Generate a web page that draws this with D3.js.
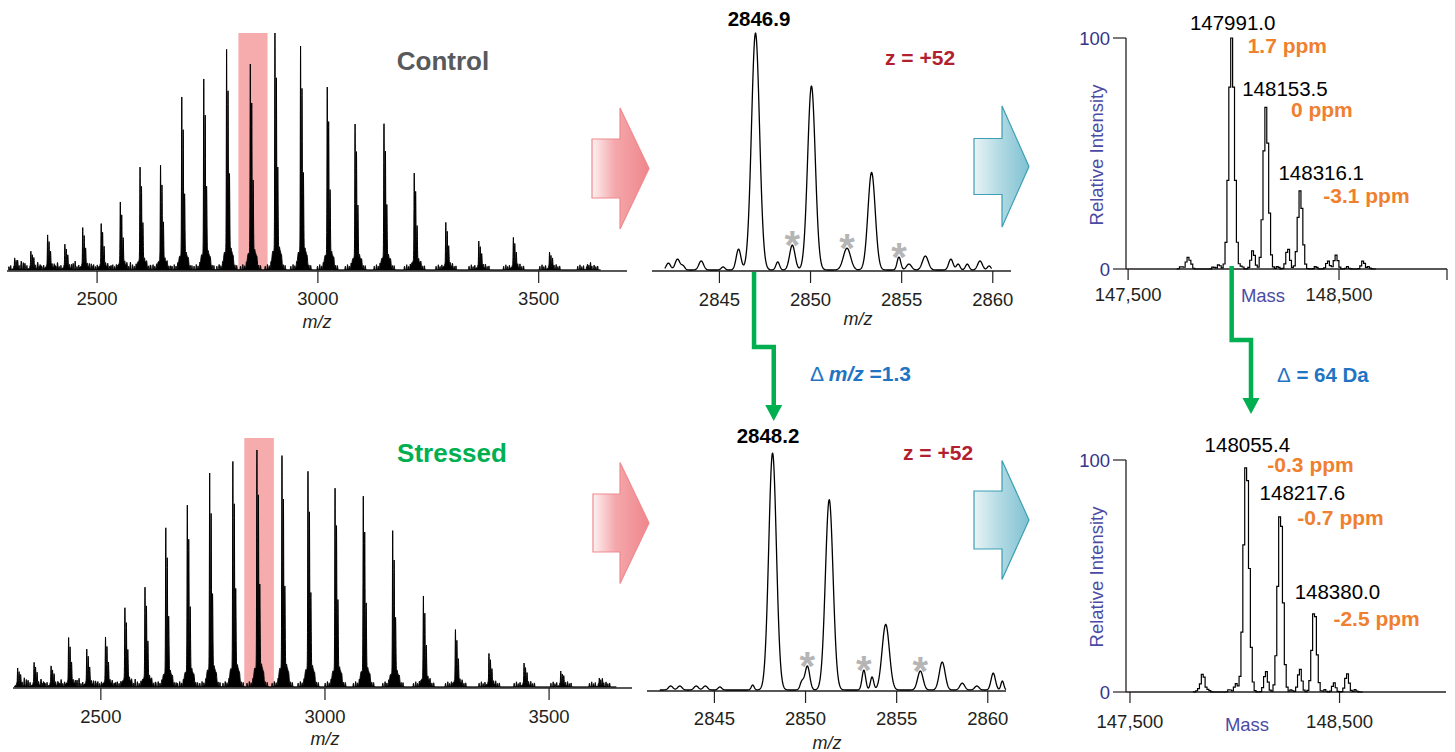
<!DOCTYPE html>
<html><head><meta charset="utf-8">
<script src="https://cdn.jsdelivr.net/npm/d3@7"></script>
<style>body{margin:0;background:#fff;} svg{display:block;font-family:"Liberation Sans",Arial,sans-serif;}</style>
</head><body><script>
// ================= DATA =================
// Full-scan charge-state envelopes (charge states 64 ... 41)
const chargeStates = [64,63,62,61,60,59,58,57,56,55,54,53,52,51,50,49,48,47,46,45,44,43,42,41];
const controlMz   = [2313.4,2350.1,2388.0,2427.1,2467.5,2509.3,2552.6,2597.3,2643.7,2691.8,2741.6,2793.3,2847.0,2902.8,2960.8,3021.2,3084.2,3149.7,3218.2,3289.7,3364.4,3442.7,3524.6,3610.5];
const controlInt  = [5.1,8.0,14.8,11.0,18.1,19.8,28.7,43.9,44.7,73.0,80.6,94.1,86.9,100,94.5,77.2,61.6,62.4,40.9,20.3,12.2,13.9,7.6,2.5];
const stressedMz  = [2314.4,2351.1,2389.0,2428.1,2468.6,2510.4,2553.7,2598.5,2644.9,2692.9,2742.8,2794.5,2848.2,2904.1,2962.1,3022.5,3085.5,3151.1,3219.6,3291.1,3365.9,3444.2,3526.1,3612.1];
const stressedInt = [8.0,10.5,8.9,21.1,16.0,21.1,33.8,42.6,67.9,77.6,90.3,96.2,100,98.7,92.0,84.8,81.4,66.7,38.4,24.5,14.3,10.1,6.8,3.8];
const highlightMz = [2820, 2886];
const fullTicks = [2500, 3000, 3500];

// Zoom on charge state z = +52
const controlZoomMz    = [2842.2,2842.7,2843.0,2844.0,2845.2,2846.05,2846.98,2848.2,2849.0,2850.05,2852.0,2853.35,2854.85,2855.4,2856.3,2857.7,2858.1,2858.6,2859.3,2859.8];
const controlZoomInt   = [2.9,4.6,1.7,3.8,1.3,8.8,100,3.4,10.5,77.7,9.2,41.2,5.5,2.5,5.9,4.6,2.5,2.5,3.8,1.7];
const controlZoomSigma = [0.12,0.13,0.1,0.13,0.1,0.13,0.22,0.1,0.15,0.21,0.2,0.2,0.1,0.14,0.16,0.12,0.1,0.1,0.13,0.1];
const stressedZoomMz    = [2842.6,2843.1,2844.0,2844.5,2845.3,2847.1,2848.19,2849.8,2850.1,2851.3,2853.2,2853.65,2854.4,2856.3,2857.5,2858.6,2859.4,2860.3,2860.8];
const stressedZoomInt   = [1.7,1.7,1.7,1.7,1.3,2.1,100,3.4,10.1,80.3,8.4,5.5,27.7,8.0,11.8,2.9,1.7,7.1,3.8];
const stressedZoomSigma = [0.12,0.12,0.12,0.12,0.1,0.08,0.21,0.1,0.13,0.21,0.1,0.09,0.2,0.15,0.16,0.13,0.12,0.12,0.08];
const zoomTicks = [2845, 2850, 2855, 2860];
const controlStarMz  = [2849.0, 2852.0, 2854.85];
const stressedStarMz = [2850.1, 2853.2, 2856.3];
const controlApex = "2846.9", stressedApex = "2848.2", chargeLabel = "z = +52";
const deltaMz = "=1.3", deltaMass = " = 64 Da";

// Deconvoluted spectra
const controlMass   = [147752,147784,147800,147905,147931,147991.0,148040,148092,148153.5,148210,148258,148316.1,148390,148448,148486,148540,148614,148640];
const controlRel    = [1.2,5,1.5,1,2,100,1.2,8,70,1.2,9,34,1.2,3.5,6,1,3.5,1];
const controlSigma  = [6,9,6,6,7,13,6,9,12,6,9,11,6,8,9,6,8,6];
const controlLabelMass = [147991.0,148153.5,148316.1];
const controlLabelRel  = [100,70,34];
const controlPpm       = ["1.7 ppm","0 ppm","-3.1 ppm"];
const stressedMass  = [147825,147848,147875,147975,148006,148055.4,148149,148217.6,148270,148311,148380.0,148430,148474,148536,148575];
const stressedRel   = [1,8,1,1.2,3.5,100,9,79,1,10,36,1,4,8,1];
const stressedSigma = [6,9,6,6,8,13,9,12,6,9,11,6,8,9,6];
const stressedLabelMass = [148055.4,148217.6,148380.0];
const stressedLabelRel  = [100,79,36];
const stressedPpm       = ["-0.3 ppm","-0.7 ppm","-2.5 ppm"];
const massTicks = [147500, 148500];
const relTicks = [0, 100];

// ================= STYLE / LAYOUT =================
const C = {ink:"#231f20", pinkBand:"#f6abad", green:"#00b050", grey:"#58595b", red:"#b11f30",
           orange:"#ef8030", blue:"#1f74c3", navy:"#35358a", axisBlue:"#4b4ba5", star:"#b5b5b5"};
// peak shape template for the full-scan envelope (offset m/z, relative height, sigma)
const envShape = {off:[0,3.2,6.4,3.5,4,-5,12], rel:[1,0.74,0.34,0.11,0.045,0.06,0.06], sig:[0.6,0.65,0.7,3.2,8,2,2.5]};
const fuzzShape = {off:[-22,-17,-13,-9,-2,7,10,15,19,23], h:[1.6,2.2,1.4,1.8,1.2,2.4,1.5,2.0,1.4,1.7], sig:[0.7,0.6,0.8,0.6,0.6,0.7,0.6,0.8,0.6,0.7]};

const svg = d3.select("body").append("svg").attr("width",1455).attr("height",752);
const defs = svg.append("defs");
function grad(id, stops){
  const g = defs.append("linearGradient").attr("id",id).attr("x1","0%").attr("x2","100%").attr("y1","0%").attr("y2","0%");
  stops.forEach(s=>g.append("stop").attr("offset",s[0]).attr("stop-color",s[1]));
}
grad("pinkGrad",[[0,"#fdf1f2"],[0.4,"#f4a8ab"],[1,"#ef868c"]]);
grad("blueGrad",[[0,"#e9f3f6"],[0.45,"#b4dbe4"],[1,"#7fc1d1"]]);

function gauss(x,mu,s){const d=(x-mu)/s;return Math.exp(-0.5*d*d);}
function sample(centers,heights,sigmas,lo,hi,step){
  const pts=[];
  for(let m=lo;m<=hi+1e-9;m+=step){
    let v=0;
    for(let i=0;i<centers.length;i++){const d=Math.abs(m-centers[i]); if(d<6*sigmas[i]) v+=heights[i]*gauss(m,centers[i],sigmas[i]);}
    pts.push([m,v]);
  }
  return pts;
}
// normalise the envelope template so that its apex equals the listed intensity
const envNorm = d3.sum(envShape.off, (o,k)=>envShape.rel[k]*gauss(0,o,envShape.sig[k]));

// ---------- Full scan panels ----------
function fullPanel(cfg, mz, ints){
  const x = d3.scaleLinear().domain(cfg.dom).range(cfg.xr);
  const y = d3.scaleLinear().domain([0,100]).range(cfg.yr);
  const g = svg.append("g");
  g.append("rect").attr("x",x(highlightMz[0])).attr("width",x(highlightMz[1])-x(highlightMz[0]))
    .attr("y",cfg.bandTop).attr("height",cfg.yr[0]-cfg.bandTop).attr("fill",C.pinkBand);
  const c=[],h=[],s=[];
  mz.forEach((m,i)=>{
    envShape.off.forEach((o,k)=>{c.push(m+o);h.push(ints[i]*envShape.rel[k]/envNorm);s.push(envShape.sig[k]);});
    fuzzShape.off.forEach((o,k)=>{c.push(m+o);h.push(fuzzShape.h[k]);s.push(fuzzShape.sig[k]);});
  });
  const pts = sample(c,h,s,cfg.samp[0],cfg.samp[1],0.2);
  g.append("path").datum(pts)
    .attr("d",d3.area().x(d=>x(d[0])).y0(y(0)).y1(d=>y(d[1])))
    .attr("fill","#000").attr("stroke","#000").attr("stroke-width",1);
  const ax = g.append("g").attr("transform",`translate(0,${cfg.axisY})`);
  ax.append("line").attr("x1",cfg.xr[0]).attr("x2",cfg.xr[1]).attr("stroke",C.ink).attr("stroke-width",1.5);
  fullTicks.forEach(t=>{
    ax.append("line").attr("x1",x(t)).attr("x2",x(t)).attr("y1",0).attr("y2",12).attr("stroke",C.ink).attr("stroke-width",1.2);
    ax.append("text").attr("x",x(t)).attr("y",cfg.tickY-cfg.axisY).attr("text-anchor","middle")
      .attr("font-size",18.5).attr("fill",C.ink).text(t);
  });
  g.append("text").attr("x",cfg.mzLab[0]).attr("y",cfg.mzLab[1]).attr("text-anchor","middle")
    .attr("font-size",18).attr("font-style","italic").attr("fill",C.ink).text("m/z");
  g.append("text").attr("x",cfg.title[0]).attr("y",cfg.title[1]).attr("text-anchor","middle")
    .attr("font-size",26).attr("font-weight","bold").attr("fill",cfg.titleColor).text(cfg.titleText);
}
fullPanel({dom:[2296,3700],xr:[7,627],yr:[270,33],bandTop:33,axisY:271,tickY:305,mzLab:[317,328],
           title:[443,70],titleText:"Control",titleColor:C.grey,samp:[2300,3640]}, controlMz, controlInt);
fullPanel({dom:[2304,3685],xr:[13,632],yr:[687,450],bandTop:438,axisY:688,tickY:723,mzLab:[325,745],
           title:[452,462],titleText:"Stressed",titleColor:C.green,samp:[2308,3650]}, stressedMz, stressedInt);

// ---------- Zoom panels ----------
function zoomPanel(cfg, mz, ints, sig, stars){
  const x = d3.scaleLinear().domain([2841.3,2861.0]).range(cfg.xr);
  const y = d3.scaleLinear().domain([0,100]).range(cfg.yr);
  const g = svg.append("g");
  const ax = g.append("g").attr("transform",`translate(0,${cfg.axisY})`);
  ax.append("line").attr("x1",cfg.xr[0]).attr("x2",cfg.xr[1]).attr("stroke",C.ink).attr("stroke-width",1.4);
  zoomTicks.forEach(t=>{
    ax.append("line").attr("x1",x(t)).attr("x2",x(t)).attr("y1",0).attr("y2",12).attr("stroke",C.ink).attr("stroke-width",1.2);
    ax.append("text").attr("x",x(t)).attr("y",cfg.tickY-cfg.axisY).attr("text-anchor","middle")
      .attr("font-size",18.5).attr("fill",C.ink).text(t);
  });
  const pts = sample(mz,ints,sig,cfg.samp[0],cfg.samp[1],0.02);
  g.append("path").datum(pts).attr("d",d3.line().x(d=>x(d[0])).y(d=>y(d[1])))
    .attr("fill","none").attr("stroke","#000").attr("stroke-width",1.3).attr("stroke-linejoin","round");
  const fs = 40;
  stars.forEach(m=>{
    const i = mz.indexOf(m);
    g.append("text").attr("x",x(m)).attr("y",y(ints[i])-9+0.58*fs).attr("text-anchor","middle")
      .attr("font-size",fs).attr("font-weight","bold").attr("fill",C.star).text("*");
  });
  g.append("text").attr("x",cfg.mzLab[0]).attr("y",cfg.mzLab[1]).attr("text-anchor","middle")
    .attr("font-size",18).attr("font-style","italic").attr("fill",C.ink).text("m/z");
  g.append("text").attr("x",cfg.apex[0]).attr("y",cfg.apex[1]).attr("text-anchor","middle")
    .attr("font-size",20.5).attr("font-weight","bold").attr("fill","#000").text(cfg.apexText);
  g.append("text").attr("x",cfg.z[0]).attr("y",cfg.z[1])
    .attr("font-size",21).attr("font-weight","bold").attr("fill",C.red).text(chargeLabel);
  return x;
}
const xZt = zoomPanel({xr:[652,1011],yr:[270,33],axisY:271,tickY:306,mzLab:[858,325],apex:[759,26],apexText:controlApex,
           z:[885,65],samp:[2842.0,2859.95]}, controlZoomMz, controlZoomInt, controlZoomSigma, controlStarMz);
const xZb = zoomPanel({xr:[647,1006],yr:[690,453],axisY:691,tickY:725,mzLab:[827,749],apex:[768,443],apexText:stressedApex,
           z:[903,460],samp:[2842.0,2861.0]}, stressedZoomMz, stressedZoomInt, stressedZoomSigma, stressedStarMz);

// ---------- Deconvoluted panels ----------
function decPanel(cfg, mass, rel, sig, lMass, lRel, ppm, lpos){
  const x = d3.scaleLinear().domain(cfg.dom).range(cfg.xr);
  const y = d3.scaleLinear().domain([0,100]).range(cfg.yr);
  const g = svg.append("g");
  g.append("line").attr("x1",cfg.xr[0]).attr("x2",cfg.xr[0]).attr("y1",y(100)).attr("y2",y(0)).attr("stroke",C.ink).attr("stroke-width",1.3);
  relTicks.forEach(t=>{
    g.append("line").attr("x1",cfg.xr[0]-13).attr("x2",cfg.xr[0]).attr("y1",y(t)).attr("y2",y(t)).attr("stroke",C.ink).attr("stroke-width",1.2);
    g.append("text").attr("x",cfg.xr[0]-16).attr("y",y(t)).attr("dy","0.36em").attr("text-anchor","end")
      .attr("font-size",18.5).attr("fill",C.navy).text(t);
  });
  g.append("line").attr("x1",cfg.xr[0]).attr("x2",cfg.xr[1]).attr("y1",y(0)).attr("y2",y(0)).attr("stroke",C.ink).attr("stroke-width",1.3);
  const tks = cfg.endTick ? massTicks.concat([cfg.dom[1]]) : massTicks;
  tks.forEach(t=>{
    g.append("line").attr("x1",x(t)).attr("x2",x(t)).attr("y1",y(0)).attr("y2",y(0)+11).attr("stroke",C.ink).attr("stroke-width",1.2);
  });
  massTicks.forEach(t=>{
    g.append("text").attr("x",x(t)).attr("y",cfg.tickY).attr("text-anchor","middle").attr("font-size",18.5)
      .attr("fill",C.ink).text(d3.format(",")(t));
  });
  const pts = sample(mass,rel,sig,cfg.samp[0],cfg.samp[1],9);
  g.append("path").datum(pts).attr("d",d3.line().curve(d3.curveStep).x(d=>x(d[0])).y(d=>y(d[1])))
    .attr("fill","none").attr("stroke","#000").attr("stroke-width",1.2);
  g.append("text").attr("x",cfg.massLab[0]).attr("y",cfg.massLab[1]).attr("text-anchor","middle")
    .attr("font-size",18.5).attr("fill",C.axisBlue).text("Mass");
  g.append("text").attr("transform",`translate(${cfg.yLab[0]},${cfg.yLab[1]}) rotate(-90)`).attr("text-anchor","middle")
    .attr("font-size",18.5).attr("fill",C.axisBlue).text("Relative Intensity");
  lMass.forEach((m,i)=>{
    const px = x(m), py = y(lRel[i]), p = lpos[i];
    g.append("text").attr("x",px+p[0]).attr("y",py+p[1]).attr("text-anchor","middle").attr("font-size",20.5)
      .attr("fill","#000").text(m.toFixed(1));
    g.append("text").attr("x",px+p[2]).attr("y",py+p[3]).attr("font-size",21).attr("font-weight","bold")
      .attr("fill",C.orange).text(ppm[i]);
  });
  return {x,y};
}
const dT = decPanel({dom:[147490,149012],xr:[1126,1447],yr:[269,38],tickY:301,massLab:[1263,302],yLab:[1103,155],
          samp:[147730,148680],endTick:true}, controlMass, controlRel, controlSigma, controlLabelMass, controlLabelRel, controlPpm,
          [[1,-8,16,15],[19,-11,25,10],[21,-10,23,13]]);
const dB = decPanel({dom:[147481,149008],xr:[1126,1446],yr:[692,460],tickY:728,massLab:[1247,731],yLab:[1103,577],
          samp:[147800,148610],endTick:false}, stressedMass, stressedRel, stressedSigma, stressedLabelMass, stressedLabelRel, stressedPpm,
          [[1,-8,21,12],[22,-9,17,16],[23,-9,19,18]]);

// ---------- Block arrows ----------
function blockArrow(x0,xn,xt,ym,sh,hh,fill,stroke){
  svg.append("path").attr("d",`M${x0},${ym-sh}H${xn}V${ym-hh}L${xt},${ym}L${xn},${ym+hh}V${ym+sh}H${x0}Z`)
    .attr("fill",fill).attr("stroke",stroke).attr("stroke-width",1.2);
}
blockArrow(592,620,649,168.5,29.5,60.5,"url(#pinkGrad)","#f08a8f");
blockArrow(593,620,649,523,29,60.5,"url(#pinkGrad)","#f08a8f");
blockArrow(974,1002,1029,166.5,28,60.5,"url(#blueGrad)","#3d9eb4");
blockArrow(974,1002,1029,520,29,59.5,"url(#blueGrad)","#3d9eb4");

// ---------- Green connectors ----------
function connector(xa,ya,ymid,xb,yhead,ytip){
  svg.append("path").attr("d",`M${xa},${ya}V${ymid}H${xb}V${yhead+1}`).attr("fill","none")
    .attr("stroke",C.green).attr("stroke-width",4.5).attr("stroke-linejoin","miter");
  svg.append("path").attr("d",`M${xb-8.5},${yhead}H${xb+8.5}L${xb},${ytip}Z`).attr("fill",C.green);
}
connector(xZt(2846.9),272,347,xZb(2848.2)+1,405,421);
connector(dT.x(147991.0),266,340,1251,398,414);

// delta labels
const t1 = svg.append("text").attr("x",810).attr("y",381).attr("font-size",21).attr("fill",C.blue);
t1.append("tspan").text("\u0394 ");
t1.append("tspan").attr("font-weight","bold").attr("font-style","italic").text("m/z");
t1.append("tspan").attr("font-weight","bold").text(" " + deltaMz);
const t2 = svg.append("text").attr("x",1277).attr("y",382).attr("font-size",20.5).attr("fill",C.blue);
t2.append("tspan").text("\u0394");
t2.append("tspan").attr("font-weight","bold").text(deltaMass);
</script></body></html>
